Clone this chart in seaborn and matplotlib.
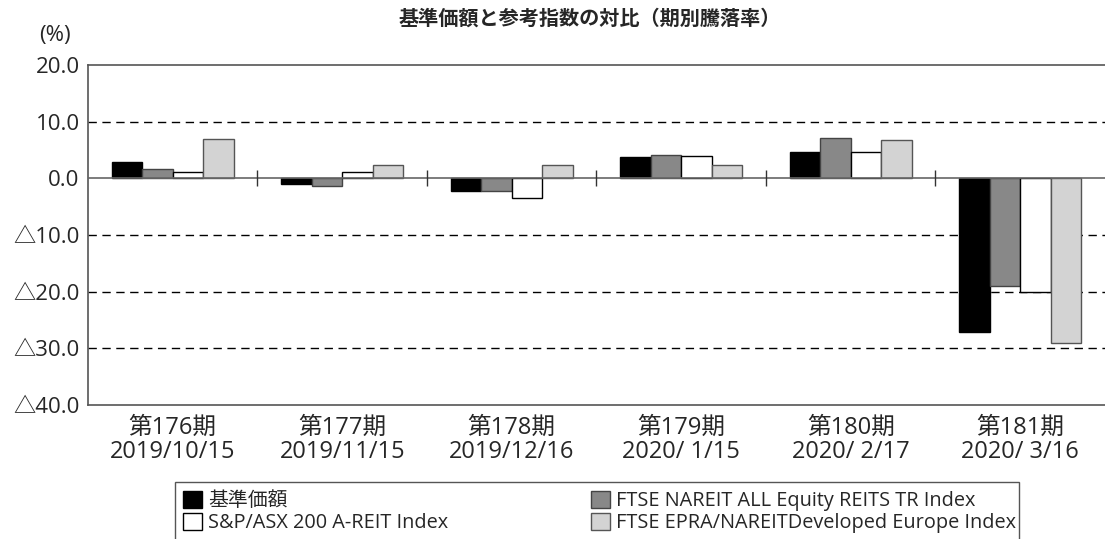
import numpy as np
import pandas as pd
import matplotlib
matplotlib.use("Agg")
import matplotlib.pyplot as plt
import matplotlib.patches as mpatches
import seaborn as sns

# ── Data ──────────────────────────────────────────────────────────────────────
periods = ["第176期\n2019/10/15", "第177期\n2019/11/15", "第178期\n2019/12/16",
           "第179期\n2020/ 1/15", "第180期\n2020/ 2/17", "第181期\n2020/ 3/16"]
series = ["基準価額", "FTSE NAREIT ALL Equity REITS TR Index",
          "S&P/ASX 200 A-REIT Index", "FTSE EPRA/NAREITDeveloped Europe Index"]
fund_nav   = [2.8, -1.0, -2.2, 3.7, 4.6, -27.2]
nareit_all = [1.6, -1.3, -2.2, 4.2, 7.1, -19.0]
asx_areit  = [1.2, 1.2, -3.4, 3.9, 4.6, -20.1]
epra_eu    = [7.0, 2.4, 2.4, 2.3, 6.8, -29.1]
y_ticks = [20, 10, 0, -10, -20, -30, -40]
y_tick_labels = ["20.0", "10.0", "0.0", "△10.0", "△20.0", "△30.0", "△40.0"]

FILLS = ["#000000", "#888888", "#ffffff", "#d3d3d3"]
EDGES = ["#000000", "#444444", "#000000", "#555555"]

sns.set_theme(style="white")
plt.rcParams["font.family"] = ["Open Sans", "Noto Sans CJK JP", "DejaVu Sans"]

df = pd.DataFrame({
    "period": np.repeat(periods, 4),
    "series": series * len(periods),
    "value": np.column_stack([fund_nav, nareit_all, asx_areit, epra_eu]).ravel(),
})

fig = plt.figure(figsize=(11.05, 5.39), dpi=100)
ax = fig.add_axes([0.0796, 0.2486, 0.9204, 0.6308])

sns.barplot(data=df, x="period", y="value", hue="series", hue_order=series,
            order=periods, palette=FILLS, width=0.72, ax=ax, legend=False,
            errorbar=None, saturation=1, zorder=3)

# per-series edge colours (one container per hue level)
for i, cont in enumerate(ax.containers):
    for bar in cont:
        bar.set_edgecolor(EDGES[i])
        bar.set_linewidth(1.0)

ax.set_ylim(-40, 20)
ax.set_xlim(-0.5, len(periods) - 0.5)
ax.set_yticks(y_ticks)
ax.set_yticklabels(y_tick_labels, fontsize=16)
ax.tick_params(axis="x", labelsize=17, length=0, pad=8)
ax.tick_params(axis="y", length=0, pad=6)
for lbl in ax.get_xticklabels():
    lbl.set_linespacing(1.0)
ax.set_xlabel("")
ax.set_ylabel("")

for y in [10, -10, -20, -30]:
    ax.axhline(y, color="black", lw=1.0, ls=(0, (6, 4)), zorder=1)
ax.axhline(0, color="#666666", lw=1.2, zorder=4)
ax.vlines(np.arange(len(periods) - 1) + 0.5, -1.4, 1.4, color="#333333", lw=1.0, zorder=4)

for side in ["left", "top", "bottom"]:
    ax.spines[side].set_color("#555555")
    ax.spines[side].set_linewidth(1.2)
ax.spines["right"].set_visible(False)

fig.text(0.534, 0.963, "基準価額と参考指数の対比（期別騰落率）", ha="center", va="center",
         fontsize=14.5, fontweight="bold")
fig.text(0.05, 0.935, "(%)", ha="center", va="center", fontsize=16)

# legend order: row-major across two columns
leg_order = [0, 2, 1, 3]
handles = [mpatches.Patch(facecolor=FILLS[i], edgecolor=EDGES[i], label=series[i])
           for i in leg_order]
leg = fig.legend(handles=handles, loc="upper left", bbox_to_anchor=(0.1656, 0.089),
                 ncol=2, fontsize=14.3, frameon=False,
                 handlelength=0.95, handleheight=0.95, handletextpad=0.3,
                 columnspacing=7.2, borderpad=0, labelspacing=0.08,
                 borderaxespad=0)

# legend box runs off the bottom of the image in the original
frame = mpatches.Rectangle((0.1584, -0.05), 0.764, 0.156, transform=fig.transFigure,
                           fill=False, edgecolor="#555555", lw=1.0, clip_on=False)
fig.patches.append(frame)

fig.savefig("out.png", dpi=100)
